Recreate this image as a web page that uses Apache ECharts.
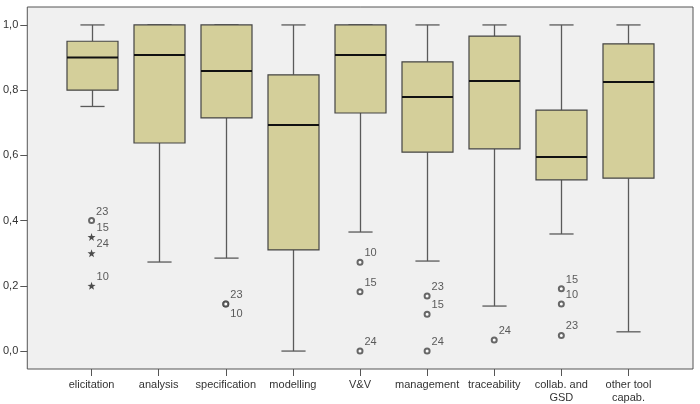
<!DOCTYPE html>
<html>
<head>
<meta charset="utf-8">
<script src="https://cdn.jsdelivr.net/npm/echarts@6/dist/echarts.min.js"></script>
<style>
html, body { margin: 0; padding: 0; background: #fff; }
#chart { width: 700px; height: 404px; }
</style>
</head>
<body>
<div id="chart"></div>
<script>
var categories = ['elicitation', 'analysis', 'specification', 'modelling', 'V&V',
    'management', 'traceability', 'collab. and\nGSD', 'other tool\ncapab.']
var whiskerLow = [0.75, 0.273, 0.285, 0.0, 0.365, 0.276, 0.138, 0.359, 0.059]
var q1 = [0.80, 0.638, 0.715, 0.31, 0.73, 0.61, 0.62, 0.525, 0.53]
var median = [0.90, 0.908, 0.859, 0.693, 0.908, 0.779, 0.828, 0.595, 0.825]
var q3 = [0.95, 1.0, 1.0, 0.847, 1.0, 0.887, 0.966, 0.739, 0.942]
var whiskerHigh = [1, 1, 1, 1, 1, 1, 1, 1, 1]

// outliers: category index, value, case number, extreme (star) or not
var outCat = [0, 0, 0, 0, 2, 2, 4, 4, 4, 5, 5, 5, 6, 7, 7, 7]
var outValue = [0.40, 0.35, 0.30, 0.20, 0.144, 0.144, 0.272, 0.182, 0.0, 0.169, 0.113, 0.0, 0.034, 0.191, 0.144, 0.048]
var outCase = ['23', '15', '24', '10', '23', '10', '10', '15', '24', '23', '15', '24', '24', '15', '10', '23']
var outExtreme = [false, true, true, true, false, false, false, false, false, false, false, false, false, false, false, false]

var yTicks = [0, 0.2, 0.4, 0.6, 0.8, 1.0]

var font = 'Arial, "Liberation Sans", sans-serif'
var starPath = 'path://M0,-10L2.35,-3.24L9.51,-3.09L3.8,1.24L5.88,8.09L0,4L-5.88,8.09L-3.8,1.24L-9.51,-3.09L-2.35,-3.24Z'

var boxData = categories.map(function (c, i) {
    return [i, whiskerLow[i], q1[i], median[i], q3[i], whiskerHigh[i]]
})

function makeOutliers(extreme) {
    var res = []
    for (var i = 0; i < outCat.length; i++) {
        if (outExtreme[i] !== extreme) continue
        // a second case on the same spot gets its label below
        var dup = i > 0 && outCat[i - 1] === outCat[i] && outValue[i - 1] === outValue[i]
        res.push({
            value: [outCat[i], outValue[i]],
            name: outCase[i],
            label: { offset: dup ? [0, 10] : [0, -9] }
        })
    }
    return res
}

function renderBox(params, api) {
    var x = api.value(0)
    var lo = api.coord([x, api.value(1)])
    var b1 = api.coord([x, api.value(2)])
    var md = api.coord([x, api.value(3)])
    var b3 = api.coord([x, api.value(4)])
    var hi = api.coord([x, api.value(5)])
    var band = api.size([1, 0])[0]
    var bw = band * 0.76
    var cw = band * 0.36
    var cx = Math.round(lo[0]) + 0.5
    var wStyle = { stroke: '#5a5a5a', lineWidth: 1.3 }
    return {
        type: 'group',
        children: [
            { type: 'line', shape: { x1: cx, y1: hi[1], x2: cx, y2: b3[1] }, style: wStyle },
            { type: 'line', shape: { x1: cx, y1: b1[1], x2: cx, y2: lo[1] }, style: wStyle },
            { type: 'line', shape: { x1: cx - cw / 2, y1: hi[1], x2: cx + cw / 2, y2: hi[1] }, style: wStyle },
            { type: 'line', shape: { x1: cx - cw / 2, y1: lo[1], x2: cx + cw / 2, y2: lo[1] }, style: wStyle },
            {
                type: 'rect',
                shape: { x: cx - bw / 2, y: b3[1], width: bw, height: b1[1] - b3[1] },
                style: { fill: '#d4cf9a', stroke: '#444', lineWidth: 1.2 }
            },
            { type: 'line', shape: { x1: cx - bw / 2, y1: md[1], x2: cx + bw / 2, y2: md[1] }, style: { stroke: '#111', lineWidth: 2 } }
        ]
    }
}

var outLabel = {
    show: true,
    position: 'right',
    distance: 1,
    formatter: '{b}',
    color: '#333',
    fontSize: 11,
    fontFamily: font
}

var chart = echarts.init(document.getElementById('chart'))
chart.setOption({
    backgroundColor: '#fff',
    animation: false,
    grid: [
        { left: 24, right: 7, top: 7, bottom: 35, show: true, backgroundColor: '#f0f0f0', borderColor: '#555', borderWidth: 1 },
        { left: 58, right: 38, top: 7, bottom: 35 }
    ],
    xAxis: [
        { gridIndex: 0, type: 'value', show: false, min: 0, max: 1 },
        {
            gridIndex: 1,
            type: 'category',
            data: categories,
            axisLine: { show: false, onZero: false },
            axisTick: { show: true, alignWithLabel: true, length: 7, lineStyle: { color: '#555' } },
            axisLabel: { interval: 0, margin: 9, color: '#333', fontSize: 11, fontFamily: font, lineHeight: 13 }
        }
    ],
    yAxis: [
        {
            gridIndex: 0,
            type: 'value',
            min: -0.055,
            max: 1.055,
            axisLine: { show: false },
            splitLine: { show: false },
            axisTick: { show: true, customValues: yTicks, length: 7, lineStyle: { color: '#555' } },
            axisLabel: {
                customValues: yTicks,
                margin: 9,
                color: '#333',
                fontSize: 11,
                fontFamily: font,
                formatter: function (v) { return v.toFixed(1).replace('.', ',') }
            }
        },
        { gridIndex: 1, type: 'value', min: -0.055, max: 1.055, show: false }
    ],
    series: [
        {
            type: 'custom',
            xAxisIndex: 1,
            yAxisIndex: 1,
            renderItem: renderBox,
            encode: { x: 0, y: [1, 2, 3, 4, 5] },
            data: boxData
        },
        {
            type: 'scatter',
            xAxisIndex: 1,
            yAxisIndex: 1,
            symbol: 'emptyCircle',
            symbolSize: 5,
            itemStyle: { color: '#444', borderColor: '#444', borderWidth: 1 },
            label: outLabel,
            data: makeOutliers(false)
        },
        {
            type: 'scatter',
            xAxisIndex: 1,
            yAxisIndex: 1,
            symbol: starPath,
            symbolSize: 8,
            itemStyle: { color: '#222' },
            label: outLabel,
            data: makeOutliers(true)
        }
    ]
})
</script>
</body>
</html>
